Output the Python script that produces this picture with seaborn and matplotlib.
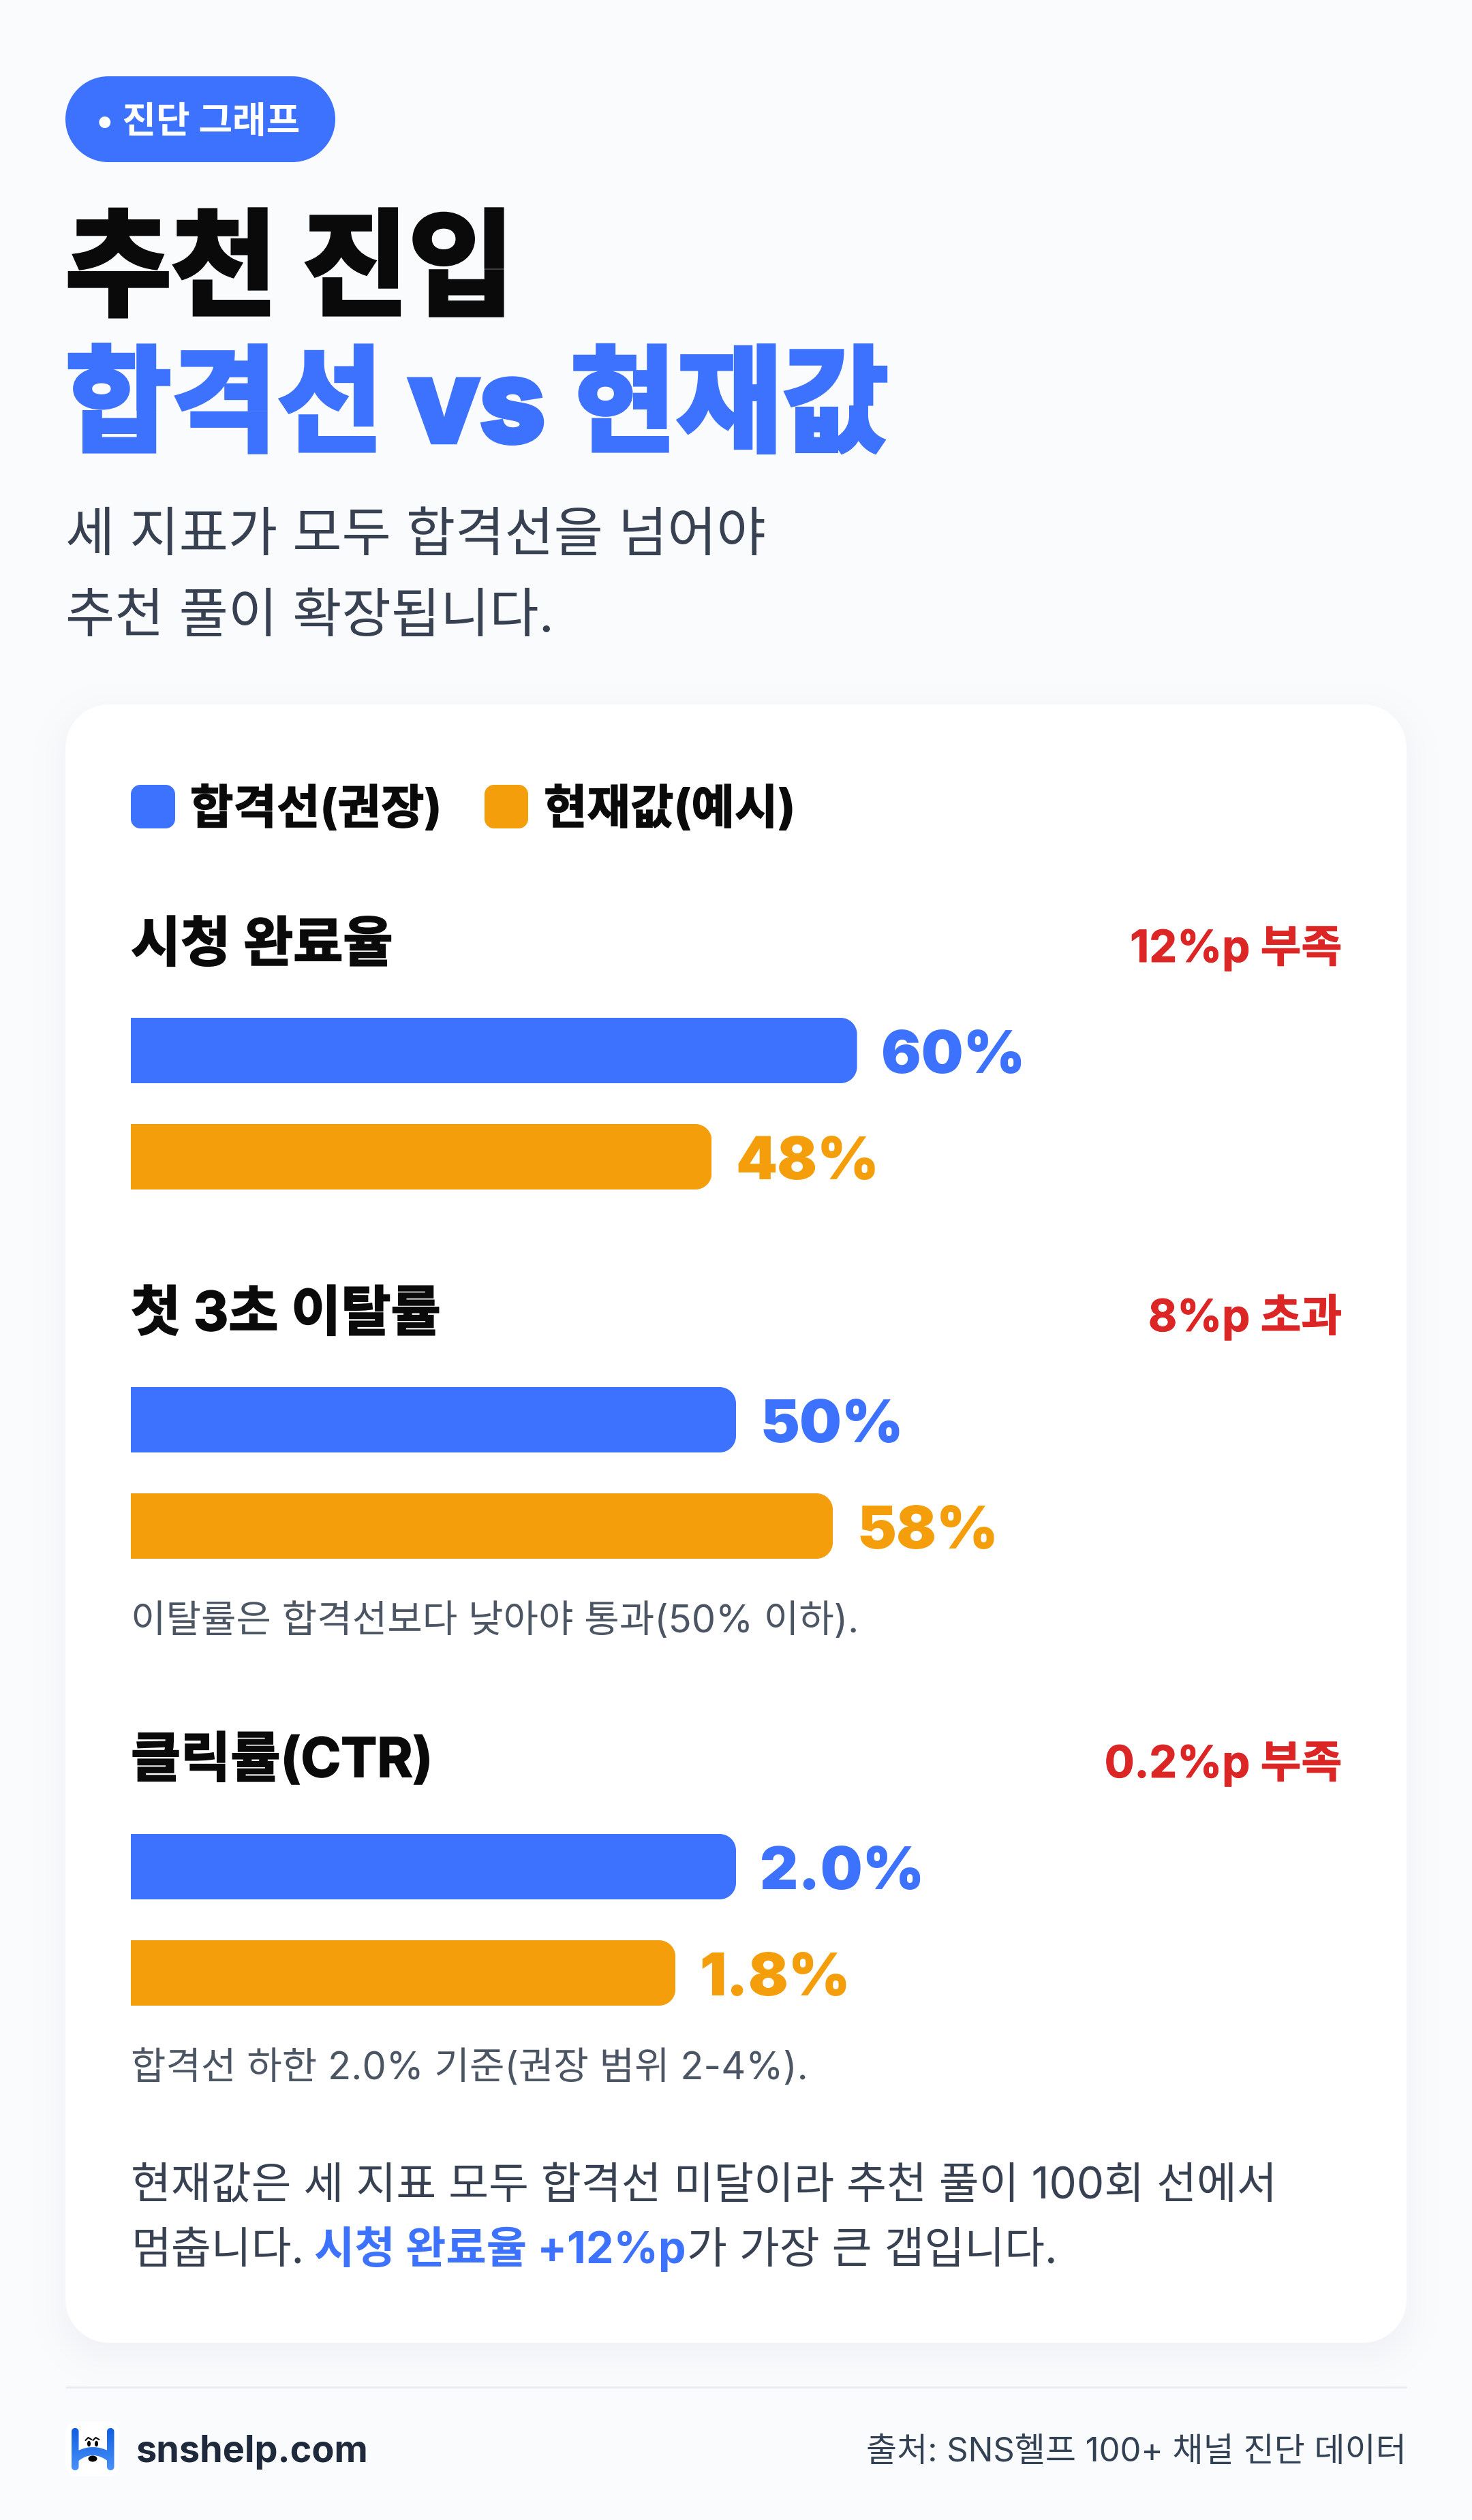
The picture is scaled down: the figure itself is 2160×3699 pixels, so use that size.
import numpy as np
import pandas as pd
import matplotlib
matplotlib.use("Agg")
import matplotlib.pyplot as plt
import matplotlib.patheffects as pe
from matplotlib.patches import Ellipse, PathPatch
from matplotlib.path import Path
import seaborn as sns

# ---- content ----
METRICS = ["시청 완료율", "첫 3초 이탈률", "클릭률(CTR)"]
THRESHOLD = [60, 50, 2.0]
CURRENT = [48, 58, 1.8]
AXIS_MAX = [100, 100, 4]
VALUE_FORMAT = ["{:.0f}%", "{:.0f}%", "{:.1f}%"]
GAP_LABELS = ["12%p 부족", "8%p 초과", "0.2%p 부족"]
NOTES = [None, "이탈률은 합격선보다 낮아야 통과(50% 이하).", "합격선 하한 2.0% 기준(권장 범위 2-4%)."]
SERIES = ["합격선(권장)", "현재값(예시)"]

# ---- layout, in pixels from the top-left corner ----
W, H = 2160, 3699
DPI = 100
HEADER_BASE = [1411, 1953, 2608]
GAP_BASE = [1412, 1954, 2609]
BAR_MID = [1620, 2162, 2818]
NOTE_BASE = [None, 2396, 3052]
ROW_STEP = 156
BAR_H = 96
PLOT_L, PLOT_R = 192, 1968

BG = "#FAFBFD"
BLUE = "#3D72FF"
ORANGE = "#F59E0B"
RED = "#DC2626"
INK = "#0A0A0A"
SLATE = "#374151"
NOTE_GREY = "#4B5563"

sns.set_theme(style="white")
plt.rcParams["font.family"] = ["Inter", "Noto Sans CJK KR", "DejaVu Sans"]
plt.rcParams["axes.unicode_minus"] = False


def pt(px):
    return px * 72 / DPI


fig = plt.figure(figsize=(W / DPI, H / DPI), dpi=DPI)
canvas = fig.add_axes([0, 0, 1, 1], zorder=0)
canvas.axis("off")


def rounded_rect_sdf(xx, yy, l, t, r, b, rad):
    cx, cy = (l + r) / 2, (t + b) / 2
    qx = np.abs(xx - cx) - ((r - l) / 2 - rad)
    qy = np.abs(yy - cy) - ((b - t) / 2 - rad)
    return np.hypot(np.maximum(qx, 0), np.maximum(qy, 0)) + np.minimum(np.maximum(qx, qy), 0) - rad


def round_path(l, t, r, b, rad_x, rad_y=None, left=True):
    """Rectangle path with circular corners; left=False keeps the left side square."""
    rad_y = rad_x if rad_y is None else rad_y
    k = 0.5523
    dx, dy = rad_x * (1 - k), rad_y * (1 - k)
    v = [(l + rad_x if left else l, t), (r - rad_x, t), (r - dx, t), (r, t + dy), (r, t + rad_y),
         (r, b - rad_y), (r, b - dy), (r - dx, b), (r - rad_x, b)]
    c = [Path.MOVETO, Path.LINETO, Path.CURVE4, Path.CURVE4, Path.CURVE4,
         Path.LINETO, Path.CURVE4, Path.CURVE4, Path.CURVE4]
    if left:
        v += [(l + rad_x, b), (l + dx, b), (l, b - dy), (l, b - rad_y),
              (l, t + rad_y), (l, t + dy), (l + dx, t), (l + rad_x, t)]
        c += [Path.LINETO, Path.CURVE4, Path.CURVE4, Path.CURVE4,
              Path.LINETO, Path.CURVE4, Path.CURVE4, Path.CURVE4]
    else:
        v += [(l, b), (l, t)]
        c += [Path.LINETO, Path.LINETO]
    v.append(v[0])
    c.append(Path.CLOSEPOLY)
    return Path(v, c)


# page background with the card's soft drop shadow baked in
CARD = (96, 1034, 2064, 3439)
CARD_R = 64
xx, yy = np.meshgrid(np.arange(W) + 0.5, np.arange(H) + 0.5)
sdf = rounded_rect_sdf(xx, yy - 16, *CARD, CARD_R)
t = np.clip(0.5 - sdf / 96, 0, 1)
shade = 0.045 * t * t * (3 - 2 * t)
base = np.array(matplotlib.colors.to_rgb(BG))
shadow_rgb = np.array([0.06, 0.09, 0.16])
page = base[None, None, :] * (1 - shade[..., None]) + shadow_rgb[None, None, :] * shade[..., None]
canvas.imshow(page, extent=(0, W, H, 0), aspect="auto", interpolation="nearest", zorder=0)
canvas.set_xlim(0, W)
canvas.set_ylim(H, 0)
canvas.autoscale(False)


def round_box(l, t, r, b, rad, color, z=2):
    canvas.add_patch(PathPatch(round_path(l, t, r, b, rad), fc=color, ec="none", lw=0, zorder=z))


def label(x, y, s, size, color, weight=400, ha="left", stroke=0, **kw):
    txt = canvas.text(x, y, s, fontsize=pt(size), color=color, fontweight=weight, ha=ha, va="baseline",
                      zorder=5, **kw)
    if stroke:
        txt.set_path_effects([pe.withStroke(linewidth=pt(stroke), foreground=color, joinstyle="miter")])
    return txt


round_box(*CARD, CARD_R, "white", z=1)

# header block
round_box(96, 112, 492, 238, 63, BLUE)
label(141, 195, "• 진단 그래프", 54, "white", 700)
label(96, 449, "추천 진입", 169, INK, 800, stroke=6.5)
label(96, 649, "합격선 vs 현재값", 169, BLUE, 800, stroke=6.5)
label(96, 809, "세 지표가 모두 합격선을 넘어야", 78.6, SLATE)
label(96, 928, "추천 풀이 확장됩니다.", 78.6, SLATE)

# legend
round_box(192, 1152, 257, 1216, 14, BLUE)
round_box(711, 1152, 775, 1216, 14, ORANGE)
label(279, 1209, SERIES[0], 69, INK, 700, stroke=1.5)
label(798, 1209, SERIES[1], 69, INK, 700, stroke=1.5)


def round_right_corners(ax, bar, rad_px):
    """Clip a bar so that its two right-hand corners are rounded."""
    x0, w = bar.get_x(), bar.get_width()
    y0, h = bar.get_y(), bar.get_height()
    (px0, py0), (px1, py1) = ax.transData.transform([(0, 0), (1, 1)])
    rx, ry = rad_px / abs(px1 - px0), rad_px / abs(py1 - py0)
    bar.set_clip_path(round_path(x0, y0, x0 + w, y0 + h, rx, ry, left=False), ax.transData)


# one horizontal bar chart per metric
for i, metric in enumerate(METRICS):
    top = BAR_MID[i] - ROW_STEP
    ax = fig.add_axes([PLOT_L / W, 1 - (top + 2 * ROW_STEP) / H, (PLOT_R - PLOT_L) / W, 2 * ROW_STEP / H], zorder=2)
    frame = pd.DataFrame({"series": SERIES, "value": [THRESHOLD[i], CURRENT[i]]})
    sns.barplot(data=frame, x="value", y="series", hue="series", palette=[BLUE, ORANGE], order=SERIES,
                hue_order=SERIES, width=BAR_H / ROW_STEP, dodge=False, legend=False, saturation=1,
                linewidth=0, ax=ax)
    ax.set_xlim(0, AXIS_MAX[i])
    ax.set_ylim(1.5, -0.5)
    ax.axis("off")
    ax.patch.set_alpha(0)

    colors = [BLUE, ORANGE]
    bars = sorted(ax.patches, key=lambda b: b.get_y())
    for j, bar in enumerate(bars):
        round_right_corners(ax, bar, 24)
        val = frame["value"].iloc[j]
        ax.annotate(VALUE_FORMAT[i].format(val), xy=(val, j), xytext=(pt(35), pt(-33)),
                    textcoords="offset points", ha="left", va="baseline", fontsize=pt(87), fontweight=900,
                    color=colors[j], annotation_clip=False)

    label(192, HEADER_BASE[i], metric, 79.5, INK, 700, stroke=2)
    label(1969, GAP_BASE[i], GAP_LABELS[i], 65, RED, 700, ha="right", stroke=1)
    if NOTES[i]:
        label(192, NOTE_BASE[i], NOTES[i], 56, NOTE_GREY)

# closing remark with an emphasised run
label(192, 3227, "현재값은 세 지표 모두 합격선 미달이라 추천 풀이 100회 선에서", 64, SLATE)
fig.canvas.draw()
renderer = fig.canvas.get_renderer()
x = 192
for run, color, weight, size, gap in [("멈춥니다.", SLATE, 400, 64, 15),
                                      ("시청 완료율 +12%p", BLUE, 700, 64.5, 1),
                                      ("가 가장 큰 갭입니다.", SLATE, 400, 64, 0)]:
    piece = label(x, 3322, run, size, color, weight)
    x = piece.get_window_extent(renderer).x1 + gap

# footer
canvas.plot([96, 2064], [3504, 3504], color="#E6EAEE", lw=pt(2.5), solid_capstyle="butt", zorder=2)
round_box(96, 3555, 175, 3635, 16, "white")

# site mark: an H whose crossbar arches over a small face
mark = Path.make_compound_path(
    round_path(105, 3564, 115.5, 3626, 5),
    round_path(157, 3564, 167.5, 3626, 5),
    Path([(113, 3598), (136, 3586), (160, 3598), (160, 3614), (136, 3594), (113, 3614), (113, 3598)],
         [Path.MOVETO, Path.CURVE3, Path.CURVE3, Path.LINETO, Path.CURVE3, Path.CURVE3, Path.CLOSEPOLY]),
)
ramp = np.linspace(0, 1, 64)[:, None, None]
mark_rgb = np.array([0.05, 0.36, 0.88])[None, None, :] * (1 - ramp) + np.array([0.30, 0.58, 0.98])[None, None, :] * ramp
mark_img = canvas.imshow(mark_rgb, extent=(100, 172, 3630, 3560), aspect="auto", zorder=3)
mark_img.set_clip_path(PathPatch(mark, transform=canvas.transData))
canvas.set_xlim(0, W)
canvas.set_ylim(H, 0)
for cx in (130.5, 141.5):
    canvas.add_patch(Ellipse((cx, 3587), 5, 8.5, fc="black", ec="none", zorder=4))
    canvas.plot([cx - 5, cx - 1, cx + 4], [3582, 3578, 3581], color="black", lw=pt(2), zorder=4,
                solid_capstyle="round")
canvas.add_patch(Ellipse((136, 3609), 13, 9, fc="black", ec="none", zorder=4))

label(200, 3614, "snshelp.com", 54, "#1E293B", 700)
label(2064, 3613, "출처: SNS헬프 100+ 채널 진단 데이터", 49, "#334155", ha="right")

fig.savefig("out.png", dpi=DPI, facecolor=BG)
